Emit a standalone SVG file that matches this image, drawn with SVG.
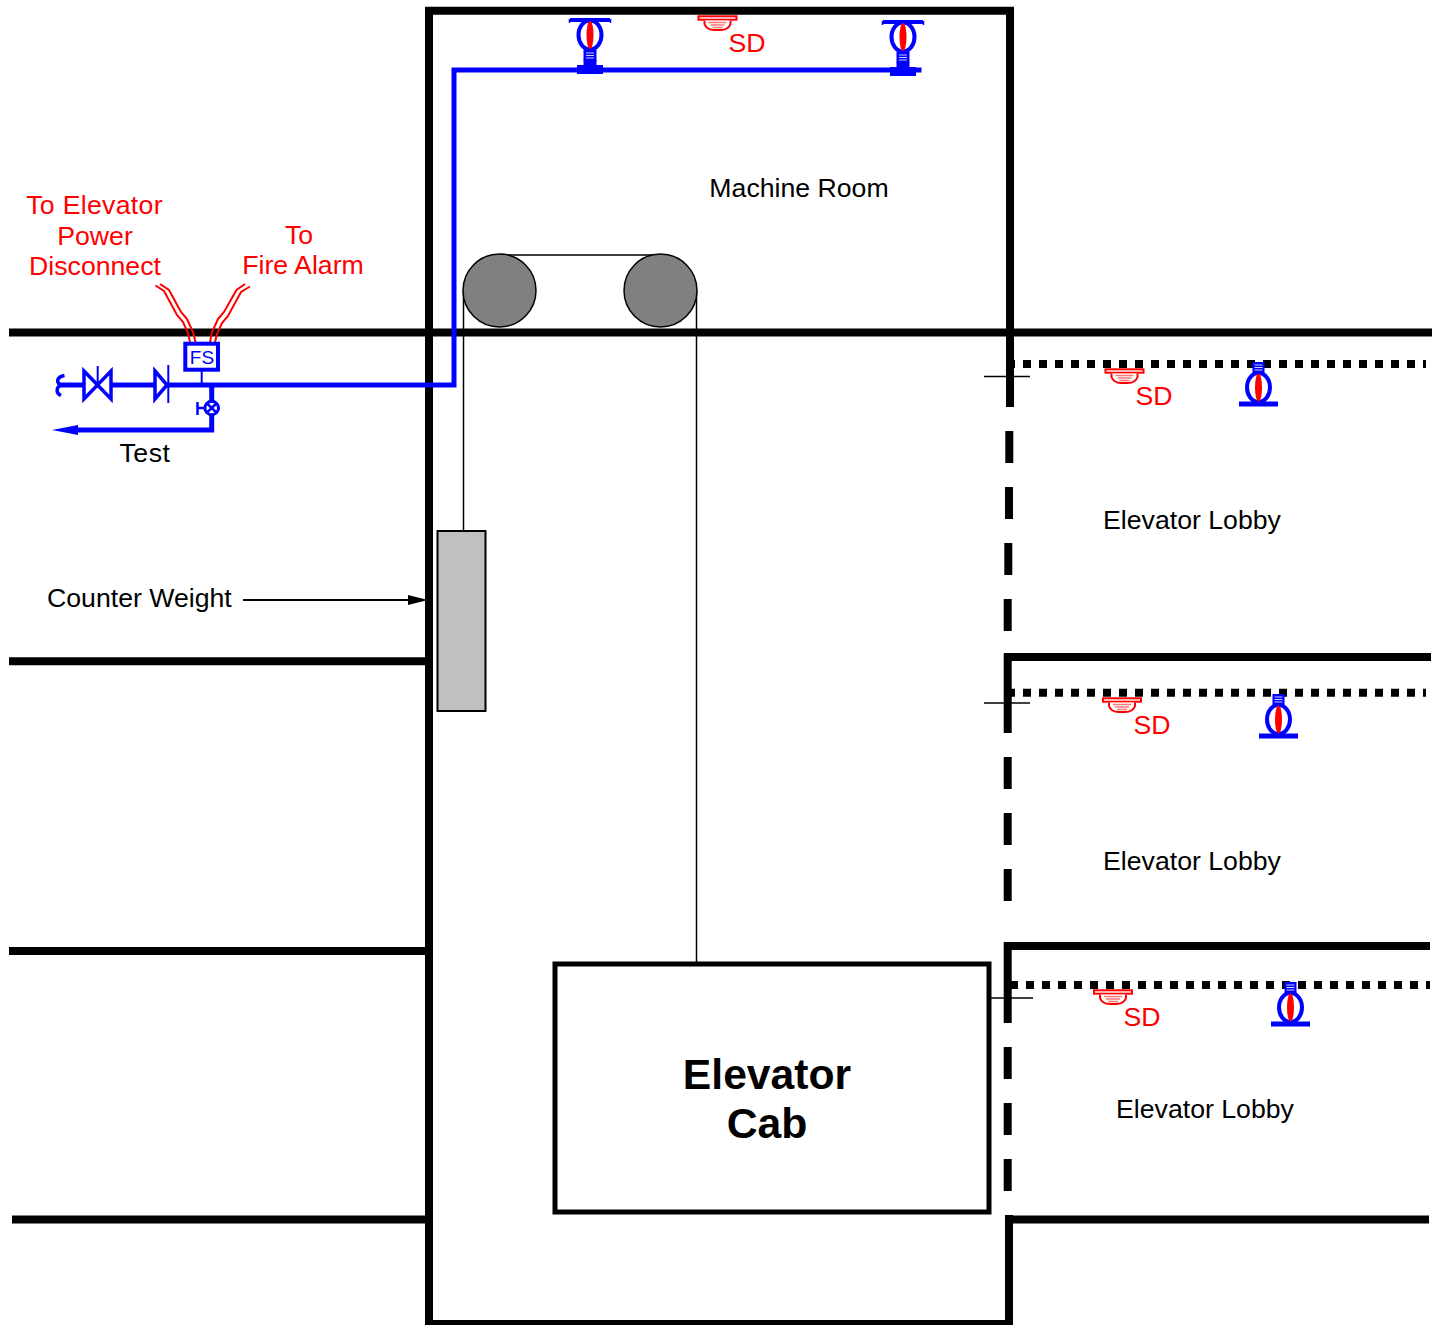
<svg xmlns="http://www.w3.org/2000/svg" xmlns:xlink="http://www.w3.org/1999/xlink" width="1439" height="1325" viewBox="0 0 1439 1325">
<style>
text{font-family:"Liberation Sans",Arial,sans-serif;font-size:26.67px;fill:#000}
.r{fill:#f00}
.c{text-anchor:middle}
.w{fill:none;stroke:#000;stroke-width:8}
.d{fill:none;stroke:#000;stroke-width:8;stroke-dasharray:8 8}
.t{fill:none;stroke:#000;stroke-width:1.5}
.p{fill:none;stroke:#00f;stroke-width:5}
.b{fill:#fff;stroke:#00f;stroke-width:3.5}
.e{fill:none;stroke:#f00;stroke-width:2}
.l{stroke:#ccf;stroke-width:1;fill:none}
</style>
<defs>
<g id="det">
<rect x="-19" y="0.300" width="38" height="3.400" fill="#fff" stroke="#f00" stroke-width="2"/>
<path d="M-13 4.500V8Q-11 14-3 14H3Q11 14 13 8V4.500" fill="#fff" stroke="#f00" stroke-width="2"/>
<path d="M-9 6.500H9M-7 9H7M-5 11.500H5" stroke="#f77" stroke-width="1.500"/>
</g>
<g id="head">
<ellipse cx="0" cy="0" rx="11.500" ry="14.500" fill="#fff" stroke="#00f" stroke-width="4"/>
<ellipse cx="0" cy="0" rx="3.500" ry="14" fill="#f00"/>
</g>
<g id="spr">
<rect x="-6" y="-42" width="12" height="11" fill="#00f"/>
<path class="l" d="M-4-39H4M-4-36.500H4M-4-34H4"/>
<use xlink:href="#head" href="#head" y="-16.500"/>
<rect x="-19.500" y="-2.500" width="39" height="5" fill="#00f"/>
</g>
<g id="top">
<path d="M-20 0H20" stroke="#00f" stroke-width="4"/>
<path d="M-20.500-1V3M20.500-1V3" stroke="#00f" stroke-width="1.500"/>
<use xlink:href="#head" href="#head" y="15"/>
<rect x="-6.500" y="30" width="13" height="11" fill="#00f"/>
<path class="l" d="M-4 33H4M-4 35.500H4M-4 38H4"/>
<path d="M-6.500 40H6.500V45H13V54H-13V45H-6.500Z" fill="#00f"/>
</g>
</defs>
<g id="connectors">
<path class="w" d="M1010 407V10.700H429V1324H1009V1215"/>
<path class="w" d="M9 332.500H1432M9 661.300H429M9 951H429M12 1219.500H429M1009 1219.500H1429"/>
<path class="w" d="M1009.300 431V463M1009 487V519M1008.300 543V575M1007.700 599V631"/>
<path class="w" d="M1007.700 733V657H1431M1007.700 757V789M1007.700 813V845M1007.700 869V901"/>
<path class="w" d="M1007.700 1023V946H1430M1007.700 1047V1079M1007.700 1103V1135M1007.700 1159V1191"/>
<path class="d" d="M1007 364H1426M1007 692.700H1426M1010 985H1430"/>
<path class="t" d="M984 376.500H1030M984 703H1030M990 998H1033"/>
<path class="t" d="M499 255H660M463.500 290V531M696.500 290V963"/>
<path class="p" d="M921.500 70H454V385H60M211.700 385V430H75"/>
<path d="M52 430 78 425V435Z" fill="#00f"/>
<path d="M243 600H410" stroke="#000" stroke-width="2" fill="none"/>
<path d="M408 595 428 600 408 605Z" fill="#000"/>
<path class="e" d="M155.500 285.500 164 291 177 315 183 322 188 333 190 342M160 284 169 290 181 312 187 319 193 332 195.500 342M250 286.500 241 292 228 316 222 323 217 334 215 342M245 284 236.500 290 224 312 218 319 212 332 210 342"/>
</g>
<g id="shaft-parts">
<circle cx="499.500" cy="290.500" r="36.500" fill="#808080" stroke="#000" stroke-width="1.500"/>
<circle cx="660.500" cy="290.500" r="36.500" fill="#808080" stroke="#000" stroke-width="1.500"/>
<rect x="437.500" y="531" width="48" height="180" fill="#c0c0c0" stroke="#000" stroke-width="2"/>
</g>
<g id="elevator-cab">
<rect x="555" y="964" width="434" height="248" fill="#fff" stroke="#000" stroke-width="5"/>
<text class="c" x="767" y="1089" style="font-size:42.67px;font-weight:bold">Elevator</text>
<text class="c" x="767" y="1138" style="font-size:42.67px;font-weight:bold">Cab</text>
</g>
<g id="sprinklers">
<use xlink:href="#top" href="#top" x="590" y="20"/>
<use xlink:href="#top" href="#top" x="903" y="22"/>
<use xlink:href="#spr" href="#spr" x="1258.500" y="404"/>
<use xlink:href="#spr" href="#spr" x="1278.500" y="736"/>
<use xlink:href="#spr" href="#spr" x="1290.500" y="1024"/>
</g>
<g id="detectors">
<use xlink:href="#det" href="#det" x="717.500" y="16"/>
<use xlink:href="#det" href="#det" x="1124.500" y="369"/>
<use xlink:href="#det" href="#det" x="1122" y="698"/>
<use xlink:href="#det" href="#det" x="1113" y="990"/>
</g>
<g id="valves">
<path d="M64.500 375.500C57 377 56 381 60 385C56 389 56 393 61 395.500" fill="none" stroke="#00f" stroke-width="3.500"/>
<path class="b" d="M84 371 111 399V371L84 399Z"/>
<path d="M97.700 366V385" stroke="#00f" stroke-width="2"/>
<path class="b" d="M155 371 167 385 155 399Z"/>
<path d="M168.300 365V403" stroke="#00f" stroke-width="2"/>
<path d="M201.700 370V385" stroke="#00f" stroke-width="2"/>
<circle cx="211.700" cy="408" r="6.800" fill="#fff" stroke="#00f" stroke-width="3"/>
<path d="M207 403.500 216.400 412.500M216.400 403.500 207 412.500M198 408H205M197.500 402V415" stroke="#00f" stroke-width="2.500" fill="none"/>
</g>
<g id="flow-switch">
<rect x="185.300" y="343.700" width="32.700" height="26" fill="#fff" stroke="#00f" stroke-width="4"/>
<text class="c" x="202" y="363.500" style="font-size:19px;fill:#00f">FS</text>
</g>
<g id="labels">
<text class="c" x="799" y="197">Machine Room</text>
<text class="r c" x="747" y="52">SD</text>
<text class="r c" x="1154" y="405">SD</text>
<text class="r c" x="1152" y="734">SD</text>
<text class="r c" x="1142" y="1026">SD</text>
<text class="r c" x="94.500" y="214" style="letter-spacing:.3px">To Elevator</text>
<text class="r c" x="95" y="245">Power</text>
<text class="r c" x="95" y="275">Disconnect</text>
<text class="r c" x="299" y="244">To</text>
<text class="r c" x="303" y="274">Fire Alarm</text>
<text class="c" x="145" y="462" style="letter-spacing:.5px">Test</text>
<text x="47" y="607">Counter Weight</text>
<text class="c" x="1192" y="529">Elevator Lobby</text>
<text class="c" x="1192" y="870">Elevator Lobby</text>
<text class="c" x="1205" y="1118">Elevator Lobby</text>
</g>
</svg>
